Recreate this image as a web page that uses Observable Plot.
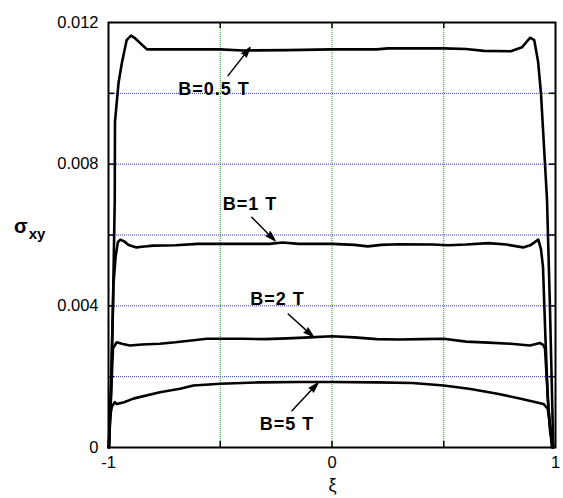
<!DOCTYPE html>
<html>
<head>
<meta charset="utf-8">
<script src="https://cdn.jsdelivr.net/npm/d3@7"></script>
<script src="https://cdn.jsdelivr.net/npm/@observablehq/plot@0.6"></script>
<style>
  html, body { margin: 0; padding: 0; background: #ffffff; }
  #chart svg { display: block; }
</style>
</head>
<body>
<div id="chart"></div>
<script>
// Hall conductivity σxy across the channel (ξ from -1 to 1) for four field strengths.
// Each curve is a list of [ξ, σxy] samples.
const curveB05 = [
  [-0.998, 0.0000], [-0.99, 0.0015], [-0.98, 0.0040], [-0.972, 0.0070], [-0.971, 0.0092],
  [-0.955, 0.0103], [-0.941, 0.01083], [-0.919, 0.0115], [-0.899, 0.01163], [-0.88, 0.01155],
  [-0.855, 0.0114], [-0.828, 0.01124], [-0.7, 0.01124], [-0.5, 0.01124], [-0.4, 0.01121],
  [-0.2, 0.01122], [0.0, 0.01124], [0.2, 0.01124], [0.25, 0.01127], [0.5, 0.01127],
  [0.6, 0.01125], [0.68, 0.0112], [0.8, 0.01119], [0.85, 0.0113], [0.886, 0.01157],
  [0.905, 0.0115], [0.922, 0.0109], [0.935, 0.0100], [0.944, 0.0090], [0.962, 0.0070],
  [0.975, 0.0040], [0.99, 0.0000]
];
const curveB1 = [
  [-0.998, 0.0000], [-0.99, 0.0012], [-0.985, 0.0025], [-0.978, 0.0046], [-0.968, 0.0054],
  [-0.958, 0.0058], [-0.947, 0.00587], [-0.93, 0.00582], [-0.91, 0.00572], [-0.875, 0.00565],
  [-0.85, 0.00567], [-0.8, 0.0057], [-0.7, 0.00571], [-0.6, 0.00575], [-0.4, 0.00575],
  [-0.28, 0.00575], [-0.22, 0.00579], [-0.15, 0.00575], [0.0, 0.00575], [0.1, 0.00572],
  [0.16, 0.00568], [0.22, 0.00572], [0.3, 0.00574], [0.45, 0.00573], [0.52, 0.00571],
  [0.6, 0.00573], [0.7, 0.00577], [0.78, 0.00573], [0.855, 0.00565], [0.89, 0.00572],
  [0.923, 0.00587], [0.935, 0.0056], [0.944, 0.0051], [0.955, 0.0031], [0.966, 0.0013],
  [0.984, 0.0000]
];
const curveB2 = [
  [-0.998, 0.0000], [-0.99, 0.0013], [-0.98, 0.0028], [-0.97, 0.0029], [-0.963, 0.00297],
  [-0.94, 0.00293], [-0.905, 0.00288], [-0.85, 0.00291], [-0.77, 0.00293], [-0.7, 0.00297],
  [-0.56, 0.00307], [-0.4, 0.00307], [-0.3, 0.00306], [-0.2, 0.00308], [-0.1, 0.00311],
  [0.0, 0.00314], [0.1, 0.00311], [0.2, 0.00306], [0.3, 0.00305], [0.4, 0.00306],
  [0.5, 0.00307], [0.6, 0.00299], [0.7, 0.00296], [0.8, 0.00293], [0.886, 0.00288],
  [0.93, 0.00295], [0.945, 0.0029], [0.953, 0.0028], [0.965, 0.0015], [0.975, 0.0005],
  [0.988, 0.0000]
];
const curveB5 = [
  [-0.999, 0.0000], [-0.995, 0.0008], [-0.985, 0.00115], [-0.972, 0.00128], [-0.963, 0.00123],
  [-0.93, 0.00128], [-0.889, 0.00138], [-0.77, 0.00156], [-0.68, 0.00166], [-0.62, 0.00175],
  [-0.5, 0.0018], [-0.32, 0.00184], [-0.15, 0.00185], [0.0, 0.00185], [0.2, 0.00184],
  [0.36, 0.00182], [0.5, 0.00175], [0.62, 0.00165], [0.74, 0.00152], [0.85, 0.00137],
  [0.946, 0.00123], [0.965, 0.0011], [0.983, 0.0003], [0.99, 0.0000]
];

const fieldNames = ["B=0.5 T", "B=1 T", "B=2 T", "B=5 T"];
const curves = [curveB05, curveB1, curveB2, curveB5];

// Axis ticks and reference grid
const xTickLabels = [-1, 0, 1];
const yTickLabels = [0, 0.004, 0.008, 0.012];
const xGrid = [-0.5, 0, 0.5];
const yGrid = [0.002, 0.004, 0.006, 0.008, 0.010];

// Curve annotations, in data units: label anchor, arrow tail and arrow tip
const labelXi    = [-0.528, -0.367, -0.244, -0.201];
const labelSigma = [0.01012, 0.00686, 0.00418, 0.00067];
const tailXi     = [-0.465, -0.359, -0.196, -0.179];
const tailSigma  = [0.0105, 0.0065, 0.00377, 0.00104];
const tipXi      = [-0.367, -0.255, -0.084, -0.063];
const tipSigma   = [0.01129, 0.00584, 0.00313, 0.00182];

const rows = curves.flatMap((pts, i) =>
  pts.map(([xi, sigma]) => ({field: fieldNames[i], xi, sigma})));
const notes = fieldNames.map((name, i) => ({
  name,
  lx: labelXi[i], ly: labelSigma[i],
  x1: tailXi[i], y1: tailSigma[i],
  x2: tipXi[i], y2: tipSigma[i]
}));

const W = 563, H = 498;
const M = {top: 22, right: 8, bottom: 51, left: 108};
const innerW = W - M.left - M.right;
const innerH = H - M.top - M.bottom;
const tick = 6;
const FONT = "'Liberation Sans', Arial, Helvetica, sans-serif";

const chart = Plot.plot({
  width: W,
  height: H,
  marginTop: M.top,
  marginRight: M.right,
  marginBottom: M.bottom,
  marginLeft: M.left,
  style: {fontFamily: FONT, background: "#ffffff", color: "#000"},
  x: {domain: [-1, 1]},
  y: {domain: [0, 0.012]},
  marks: [
    // dotted grid
    Plot.ruleY(yGrid, {stroke: "#3535d0", strokeWidth: 1, strokeDasharray: "1,1"}),
    Plot.ruleX(xGrid, {stroke: "#249224", strokeWidth: 1, strokeDasharray: "1,1"}),
    // inward tick marks on all four sides
    Plot.ruleX(xGrid, {insetTop: innerH - tick, stroke: "#000", strokeWidth: 1.5}),
    Plot.ruleX(xGrid, {insetBottom: innerH - tick, stroke: "#000", strokeWidth: 1.5}),
    Plot.ruleY(yGrid, {insetRight: innerW - tick, stroke: "#000", strokeWidth: 1.5}),
    Plot.ruleY(yGrid, {insetLeft: innerW - tick, stroke: "#000", strokeWidth: 1.5}),
    // tick labels
    Plot.axisX(xTickLabels, {
      anchor: "bottom", tickSize: 0, tickPadding: 9, label: null,
      fontSize: 16.5, fill: "#000",
      tickFormat: d => (d < 0 ? "-" + Math.abs(d) : String(d))
    }),
    Plot.axisY(yTickLabels, {
      anchor: "left", tickSize: 0, tickPadding: 10, label: null,
      fontSize: 16.5, fill: "#000",
      tickFormat: d => (d === 0 ? "0" : d3.format(".3f")(d))
    }),
    // curves
    Plot.line(rows, {x: "xi", y: "sigma", z: "field", stroke: "#000", strokeWidth: 2.6,
      strokeLinejoin: "round", strokeLinecap: "round"}),
    // annotations: arrows with solid heads
    Plot.arrow(notes, {x1: "x1", y1: "y1", x2: "x2", y2: "y2", stroke: "#000", fill: "#000",
      strokeWidth: 1.5, headLength: 10, headAngle: 32}),
    Plot.text(notes, {x: "lx", y: "ly", text: "name", fontSize: 18, fontWeight: "bold",
      fill: "#000", textAnchor: "middle", lineAnchor: "middle"}),
    // plot frame
    Plot.frame({stroke: "#000", strokeWidth: 2})
  ]
});

const svg = d3.select(chart);
svg.selectAll("g[aria-label='text'] text").attr("letter-spacing", "1px");

// axis titles: ξ below, σxy on the left with a subscript
svg.append("text")
  .attr("x", M.left + innerW / 2 + 1)
  .attr("y", 491)
  .attr("text-anchor", "middle")
  .attr("font-family", FONT)
  .attr("font-size", 18)
  .attr("fill", "#000")
  .text("ξ");

const ylab = svg.append("text")
  .attr("x", 14)
  .attr("y", 233)
  .attr("text-anchor", "start")
  .attr("font-family", FONT)
  .attr("font-weight", "bold")
  .attr("fill", "#000");
ylab.append("tspan").attr("font-size", 20).text("σ");
ylab.append("tspan").attr("font-size", 15).attr("dy", 6).attr("dx", 1).text("xy");

document.getElementById("chart").appendChild(chart);
</script>
</body>
</html>
